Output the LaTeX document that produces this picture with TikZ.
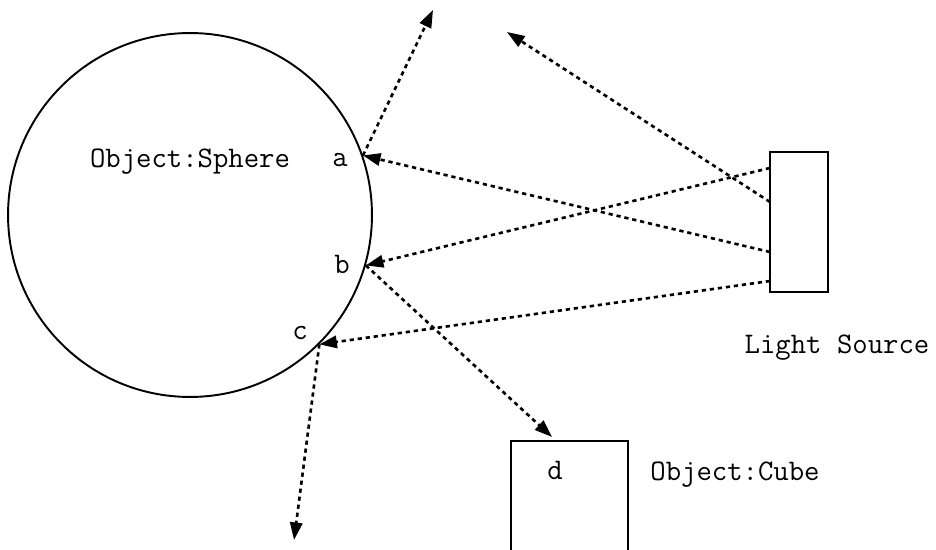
\documentclass[tikz,border=0pt]{standalone}
\usepackage{fontspec}
\usetikzlibrary{arrows.meta,calc}

\begin{document}
\begin{tikzpicture}[x=0.02cm,y=-0.02cm,
    ray/.style={-{Triangle[length=10pt,width=7pt]}, line width=1.5pt,
                dash pattern=on 2.4pt off 2.2pt},
    lbl/.style={font=\ttfamily\fontsize{17}{20}\selectfont, inner sep=0pt}]
  \useasboundingbox (0,0) rectangle (936,550);

  % objects
  \node[circle, draw, line width=1.1pt, minimum size=7.28cm, inner sep=0pt] (sphere) at (190,215) {};
  \node[draw, line width=1.1pt, minimum width=1.16cm, minimum height=2.8cm, inner sep=0pt] (light) at (799,222) {};
  \draw[line width=1.1pt] (511,550) -- (511,441) -- (628,441) -- (628,550);

  \node[lbl] (sphtxt) at (190,162) {Object:Sphere};
  \node[lbl] (lighttxt) at (837,348) {Light Source};
  \node[lbl] (cubetxt) at (735,475) {Object:Cube};
  \node[lbl] (dlbl) at (555,470) {d};
  \node[lbl] (albl) at (340,160) {a};
  \node[lbl] (blbl) at (342,264) {b};
  \node[lbl] (clbl) at (300,333) {c};

  % hit points and ray ends
  \coordinate (a) at (sphere.19);
  \coordinate (b) at (sphere.-16);
  \coordinate (c) at (sphere.-45);
  \coordinate (l1) at (770,168);
  \coordinate (l2) at (770,202);
  \coordinate (l3) at (770,252);
  \coordinate (l4) at (770,281);
  \coordinate (aout) at (433,10);
  \coordinate (bout) at (552,437);
  \coordinate (cout) at (294,540);
  \coordinate (lout) at (507,32);

  \draw[ray] (l1) -- (b);
  \draw[ray] (l2) -- (lout);
  \draw[ray] (l3) -- (a);
  \draw[ray] (l4) -- (c);
  \draw[ray] (a) -- (aout);
  \draw[ray] (b) -- (bout);
  \draw[ray] (c) -- (cout);
\end{tikzpicture}
\end{document}
